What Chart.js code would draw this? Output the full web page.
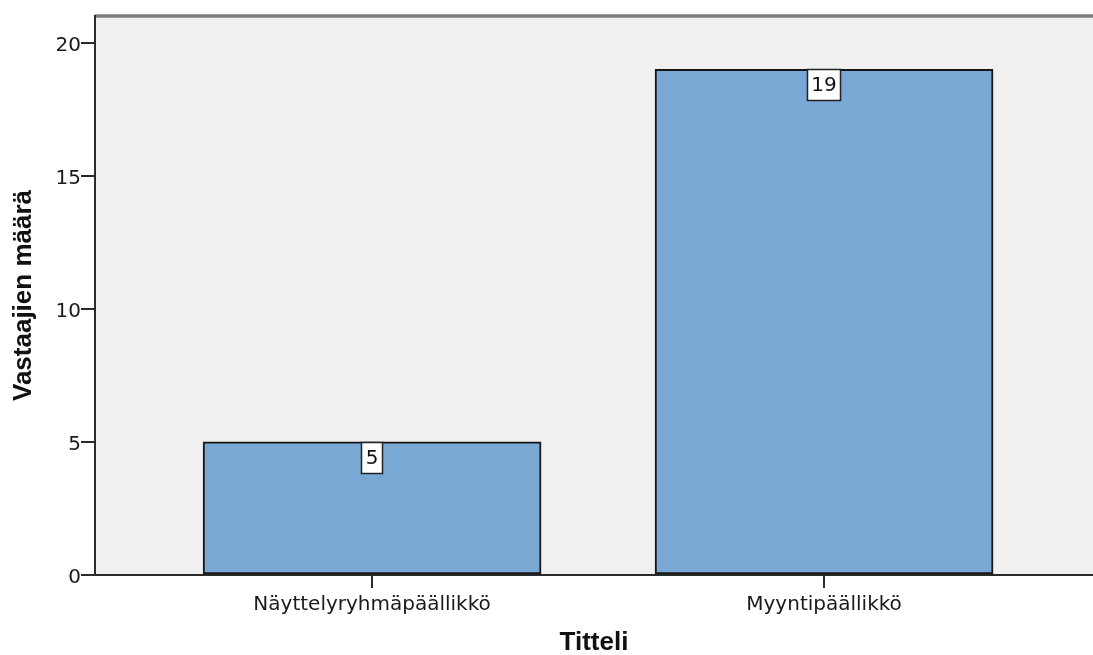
<!DOCTYPE html>
<html lang="fi">
<head>
<meta charset="utf-8">
<title>Titteli – vastaajien määrä</title>
<script src="https://cdn.jsdelivr.net/npm/chart.js@4.4.1/dist/chart.umd.min.js"></script>
<style>
  html, body { margin: 0; padding: 0; background: #ffffff; }
  #wrap { position: relative; width: 1093px; height: 655px; }
</style>
</head>
<body>
<div id="wrap"><canvas id="chart"></canvas></div>
<script>
// Categories and respondent counts
const categories = ['Näyttelyryhmäpäällikkö', 'Myyntipäällikkö'];
const counts = [5, 19];
const yTickValues = [0, 5, 10, 15, 20];
const xTitle = 'Titteli';
const yTitle = 'Vastaajien määrä';

const TICK_FONT = { family: '"DejaVu Sans", Verdana, sans-serif', size: 20 };
const TITLE_FONT = { family: '"Liberation Sans", Arial, sans-serif', size: 26, weight: 'bold', lineHeight: 1 };

// Grey plot background plus the top frame line
const plotFrame = {
  id: 'plotFrame',
  beforeDraw(chart) {
    const { ctx, chartArea: a } = chart;
    ctx.save();
    ctx.fillStyle = '#f0f0f0';
    ctx.fillRect(a.left, a.top, a.right - a.left, a.bottom - a.top);
    ctx.strokeStyle = '#7d7d7d';
    ctx.lineWidth = 3.5;
    ctx.beginPath();
    ctx.moveTo(a.left, a.top);
    ctx.lineTo(a.right, a.top);
    ctx.stroke();
    ctx.restore();
  }
};

// Boxed value labels hanging from the top of each bar
const valueBoxes = {
  id: 'valueBoxes',
  afterDatasetsDraw(chart) {
    const { ctx } = chart;
    const meta = chart.getDatasetMeta(0);
    ctx.save();
    ctx.font = `${TICK_FONT.size}px ${TICK_FONT.family}`;
    ctx.textAlign = 'center';
    ctx.textBaseline = 'middle';
    meta.data.forEach((bar, i) => {
      const text = String(chart.data.datasets[0].data[i].y);
      const w = Math.round(ctx.measureText(text).width + 9);
      const h = 32;
      const x = Math.round(bar.x - w / 2);
      const y = Math.round(bar.y);
      ctx.fillStyle = '#ffffff';
      ctx.fillRect(x, y, w, h);
      ctx.strokeStyle = '#222222';
      ctx.lineWidth = 1.5;
      ctx.strokeRect(x + 0.5, y + 0.5, w - 1, h - 1);
      ctx.fillStyle = '#111111';
      ctx.fillText(text, bar.x, y + h / 2 + 1);
    });
    ctx.restore();
  }
};

new Chart(document.getElementById('chart'), {
  type: 'bar',
  data: {
    datasets: [{
      data: categories.map((c, i) => ({ x: i, y: counts[i] })),
      backgroundColor: '#79a8d4',
      borderColor: '#161616',
      borderWidth: 2,
      borderSkipped: false,
      barThickness: 338
    }]
  },
  options: {
    responsive: true,
    maintainAspectRatio: false,
    animation: false,
    layout: { padding: { top: 16, right: 0, left: 0, bottom: 0 } },
    plugins: {
      legend: { display: false },
      tooltip: { enabled: false }
    },
    scales: {
      x: {
        type: 'linear',
        offset: false,
        min: -0.613,
        max: 1.595,
        afterBuildTicks(scale) { scale.ticks = categories.map((c, i) => ({ value: i })); },
        afterFit(scale) { scale.height = 80; },
        ticks: {
          callback: (v) => categories[v],
          font: TICK_FONT,
          color: '#1a1a1a',
          padding: 5,
          maxRotation: 0,
          autoSkip: false
        },
        grid: { offset: false, drawOnChartArea: false, drawTicks: true, tickLength: 13, color: '#2b2b2b', lineWidth: 2 },
        border: { display: true, color: '#2b2b2b', width: 2 },
        title: { display: true, text: xTitle, font: { ...TITLE_FONT, lineHeight: 0.9 }, color: '#111111', padding: { top: 0, bottom: 0 } }
      },
      y: {
        min: 0,
        max: 21,
        afterBuildTicks(scale) { scale.ticks = yTickValues.map(v => ({ value: v })); },
        afterFit(scale) { scale.width = 95; },
        ticks: { font: TICK_FONT, color: '#1a1a1a', padding: 0, labelOffset: 3 },
        grid: { drawOnChartArea: false, drawTicks: true, tickLength: 14, color: '#2b2b2b', lineWidth: 2 },
        border: { display: true, color: '#2b2b2b', width: 2 },
        title: { display: true, text: yTitle, font: TITLE_FONT, color: '#111111', padding: { top: 11, bottom: 0 } }
      }
    }
  },
  plugins: [plotFrame, valueBoxes]
});
</script>
</body>
</html>
